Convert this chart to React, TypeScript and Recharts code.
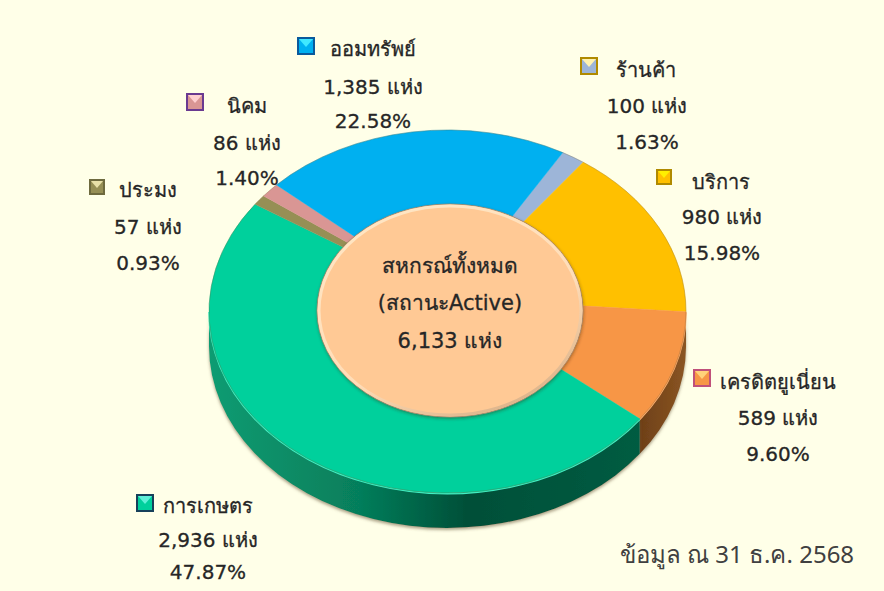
import React from "react";
import { PieChart, Pie } from "recharts";

const categories = ["ร้านค้า", "บริการ", "เครดิตยูเนี่ยน", "การเกษตร", "ประมง", "นิคม", "ออมทรัพย์"];
const counts = [100, 980, 589, 2936, 57, 86, 1385];
const countLabels = ["100 แห่ง", "980 แห่ง", "589 แห่ง", "2,936 แห่ง", "57 แห่ง", "86 แห่ง", "1,385 แห่ง"];
const percentLabels = ["1.63%", "15.98%", "9.60%", "47.87%", "0.93%", "1.40%", "22.58%"];
const sliceColors = ["#9DB5D8", "#FFC000", "#F79646", "#00D09C", "#968F55", "#D99694", "#00B0F0"];
const wallColors = ["#5f7390", "#a17a00", "url(#wallOrange)", "url(#wallGreen)", "#5f5a35", "#8a5f5e", "#006f99"];
const rimColors = ["#c4d4ea", "#ffd860", "#FFB070", "#40F0C4", "#b8b080", "#eab0ae", "#50d0ff"];
const markerBorders = ["#B08A00", "#B08A00", "#C0507A", "#17405A", "#6E6A3E", "#6A3A90", "#0A5A9C"];
const markerTops = ["#FFF2B0", "#FFF000", "#FFD27A", "#5FF0D8", "#E8E0A8", "#FFD0D0", "#40E8FF"];
const totalTitle = ["สหกรณ์ทั้งหมด", "(สถานะActive)", "6,133 แห่ง"];
const footnote = "ข้อมูล ณ 31 ธ.ค. 2568";

// layout of the outside labels: text centre x, marker left, marker top, three line y's
const labelTextX = [647, 722, 778, 208, 148, 247, 373];
const labelNameX = [646, 721, 778, 208, 148, 247, 373];
const labelMarkerX = [580, 656, 693, 136, 89, 186, 297];
const labelMarkerY = [57, 169, 369, 494, 179, 93, 37];
const labelMarkerS = [18, 16, 18, 18, 16, 18, 18];
const labelLineY = [
  [70, 106, 142],
  [182, 217, 253],
  [382, 418, 454],
  [506, 540, 572],
  [190, 227, 263],
  [106, 143, 178],
  [49, 87, 121],
];

// the reference is a tilted 3D pie with perspective: clockwise-from-top angle -> angle as drawn on the rim ellipse
const warpTrue = [28.9, 34.7, 92.3, 126.9, 299.2, 302.5, 307.6, 388.9];
const warpDrawn = [28.9, 34.6, 90.1, 126.3, 306.2, 309.5, 314.2, 388.9];

const W = 884;
const H = 591;
const CX = 447.5;
const CY = 311.5;
const APEX_Y = 298; // perspective moves the slices' meeting point above the ellipse centre
const RX = 238.5;
const RY = 181.5;
const DEPTH = 35;
const FONT = "'DejaVu Sans','Noto Sans',sans-serif";
const TXT = "#262626";
const START = 61.1;

const rad = (d: number) => (d * Math.PI) / 180;

// recharts angle (counter-clockwise from east) -> drawn recharts angle, keeping turns
const warp = (a: number) => {
  const clock = 90 - a;
  const turns = Math.floor((clock - warpTrue[0] + 1e-6) / 360);
  const c = clock - turns * 360;
  for (let i = 0; i < warpTrue.length - 1; i++) {
    if (c <= warpTrue[i + 1] + 1e-6) {
      const t = (c - warpTrue[i]) / (warpTrue[i + 1] - warpTrue[i]);
      const drawn = warpDrawn[i] + t * (warpDrawn[i + 1] - warpDrawn[i]);
      return 90 - (drawn + turns * 360);
    }
  }
  return a;
};

const ex = (cx: number, a: number) => cx + RX * Math.cos(rad(a));
const ey = (cy: number, a: number) => cy - RY * Math.sin(rad(a));

const TopSlice = (p: any) => {
  const s = warp(p.startAngle);
  const e = warp(p.endAngle);
  const large = s - e > 180 ? 1 : 0;
  const arc = `${ex(p.cx, s)} ${ey(p.cy, s)} A${RX} ${RY} 0 ${large} 1 ${ex(p.cx, e)} ${ey(p.cy, e)}`;
  return (
    <g>
      <path d={`M${p.cx} ${APEX_Y} L${arc} Z`} fill={p.fill} stroke={p.fill} strokeWidth={0.4} />
      <path d={`M${arc}`} fill="none" stroke="rgba(110,85,40,0.28)" strokeWidth={1} />
    </g>
  );
};

const WallSlice = (p: any) => {
  // only the front half of the rim is visible (recharts angles -180..0)
  let a0 = warp(p.startAngle);
  let a1 = warp(p.endAngle);
  while (a0 > 0) {
    a0 -= 360;
    a1 -= 360;
  }
  const s = Math.min(a0, 0);
  const e = Math.max(a1, -180);
  if (s <= e) return <g />;
  const x = (a: number) => ex(p.cx, a);
  const y = (a: number) => ey(p.cy, a);
  const d =
    `M${x(s)} ${y(s)} A${RX} ${RY} 0 0 1 ${x(e)} ${y(e)} ` +
    `L${x(e)} ${y(e) + DEPTH} A${RX} ${RY} 0 0 0 ${x(s)} ${y(s) + DEPTH} Z`;
  return (
    <g>
      <path d={d} fill={p.fill} stroke="none" filter="url(#wallShadow)" />
      <path d={`M${x(s)} ${y(s) + 0.5} A${RX} ${RY} 0 0 1 ${x(e)} ${y(e) + 0.5}`} fill="none" stroke={rimColors[p.index]} strokeWidth={1.6} />
    </g>
  );
};

const CenterDisc = (p: any) => {
  const rx = 133;
  const ry = 106.5;
  return (
    <g>
      <ellipse cx={p.cx} cy={p.cy} rx={rx} ry={ry} fill="#FFC995" filter="url(#softShadow)" stroke="#9a8268" strokeWidth={0.8} />
      <ellipse cx={p.cx} cy={p.cy} rx={rx - 2} ry={ry - 2} fill="#FFC995" stroke="url(#discRim)" strokeWidth={3} />
    </g>
  );
};

const lineStyle = { fontFamily: FONT, fontSize: 20, fill: TXT, stroke: TXT, strokeWidth: 0.3 };

const OuterLabel = (p: any) => {
  const i = p.index;
  const [y0, y1, y2] = labelLineY[i];
  const mx = labelMarkerX[i];
  const my = labelMarkerY[i];
  const ms = labelMarkerS[i];
  const tx = labelTextX[i];
  return (
    <g>
      <rect x={mx} y={my} width={ms} height={ms} fill={markerBorders[i]} />
      <rect x={mx + 2} y={my + 2} width={ms - 4} height={ms - 4} fill={sliceColors[i]} />
      <polygon
        points={`${mx + 2},${my + 2} ${mx + ms - 2},${my + 2} ${mx + ms / 2},${my + ms / 2 + 1}`}
        fill={markerTops[i]}
      />
      <text x={labelNameX[i]} y={y0} textAnchor="middle" dominantBaseline="central" style={lineStyle}>{categories[i]}</text>
      <text x={tx} y={y1} textAnchor="middle" dominantBaseline="central" style={lineStyle}>{countLabels[i]}</text>
      <text x={tx} y={y2} textAnchor="middle" dominantBaseline="central" style={lineStyle}>{percentLabels[i]}</text>
    </g>
  );
};

const CenterLabel = () => {
  const style = { ...lineStyle, fontSize: 21 };
  const ys = [266, 303, 341];
  return (
    <g>
      {totalTitle.map((t, i) => (
        <text key={t} x={450} y={ys[i]} textAnchor="middle" dominantBaseline="central" style={style}>{t}</text>
      ))}
    </g>
  );
};

const data = categories.map((name, i) => ({ name, value: counts[i], fill: sliceColors[i] }));
const wallData = categories.map((name, i) => ({ name, value: counts[i], fill: wallColors[i] }));
const totalData = [{ name: "total", value: counts.reduce((a, b) => a + b, 0), fill: "#FFC995" }];

export default function App() {
  return (
    <div style={{ position: "absolute", left: 0, top: 0, width: W, height: H, background: "#FFFFE8", overflow: "hidden" }}>
      <PieChart width={W} height={H} margin={{ top: 0, right: 0, bottom: 0, left: 0 }}>
        <defs>
          <linearGradient id="wallGreen" gradientUnits="userSpaceOnUse" x1={209} x2={640} y1={0} y2={0}>
            <stop offset="0" stopColor="#0E9C72" />
            <stop offset="0.35" stopColor="#067E5B" />
            <stop offset="0.6" stopColor="#004F38" />
            <stop offset="1" stopColor="#005C42" />
          </linearGradient>
          <linearGradient id="wallOrange" gradientUnits="userSpaceOnUse" x1={640} x2={686} y1={0} y2={0}>
            <stop offset="0" stopColor="#6E4018" />
            <stop offset="1" stopColor="#8A5522" />
          </linearGradient>
          <linearGradient id="discRim" x1="0.2" y1="0" x2="0.8" y2="1">
            <stop offset="0" stopColor="#FFE6C4" />
            <stop offset="0.6" stopColor="#FFDDB8" />
            <stop offset="1" stopColor="#D8AE84" />
          </linearGradient>
          <filter id="softShadow" x="-10%" y="-10%" width="120%" height="125%">
            <feDropShadow dx="0.5" dy="1.5" stdDeviation="1.5" floodColor="#3a2a10" floodOpacity="0.4" />
          </filter>
          <filter id="wallShadow" x="-5%" y="-5%" width="110%" height="120%">
            <feDropShadow dx="0" dy="2" stdDeviation="1.5" floodColor="#6b5a3a" floodOpacity="0.55" />
          </filter>
        </defs>
        <Pie
          data={wallData}
          dataKey="value"
          cx={CX}
          cy={CY}
          outerRadius={RX}
          startAngle={START}
          endAngle={START - 360}
          isAnimationActive={false}
          shape={WallSlice}
          stroke="none"
          labelLine={false}
        />
        <Pie
          data={data}
          dataKey="value"
          cx={CX}
          cy={CY}
          outerRadius={RX}
          startAngle={START}
          endAngle={START - 360}
          isAnimationActive={false}
          shape={TopSlice}
          stroke="none"
          labelLine={false}
          label={OuterLabel}
        />
        <Pie
          data={totalData}
          dataKey="value"
          cx={450}
          cy={310.5}
          outerRadius={133}
          isAnimationActive={false}
          shape={CenterDisc}
          stroke="none"
          labelLine={false}
          label={CenterLabel}
        />
        <text
          x={737}
          y={553}
          textAnchor="middle"
          dominantBaseline="central"
          style={{ fontFamily: "'Noto Sans',sans-serif", fontSize: 24, fill: "#404040" }}
        >
          {footnote}
        </text>
      </PieChart>
    </div>
  );
}
